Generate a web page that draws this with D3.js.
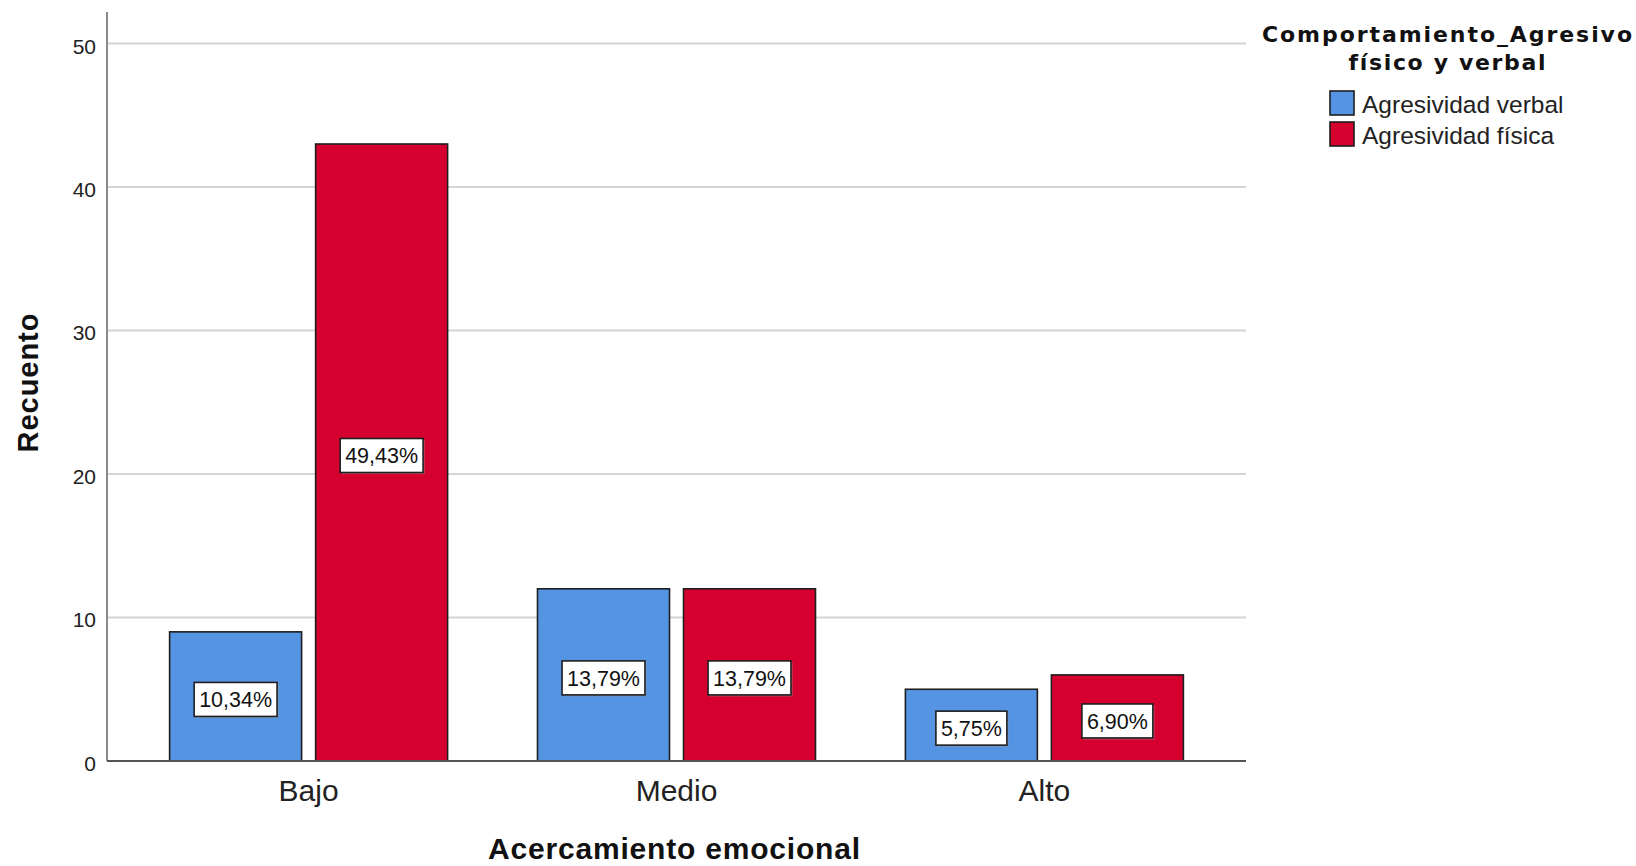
<!DOCTYPE html>
<html>
<head>
<meta charset="utf-8">
<script src="https://cdn.jsdelivr.net/npm/d3@7"></script>
<style>
  html, body { margin: 0; padding: 0; background: #fff; }
  svg { display: block; font-family: "Liberation Sans", Arial, sans-serif; }
</style>
</head>
<body>
<svg id="chart" width="1636" height="866"></svg>
<script>
const categories = ["Bajo", "Medio", "Alto"];
const seriesNames = ["Agresividad verbal", "Agresividad física"];
const verbalCounts = [9, 12, 5];
const fisicaCounts = [43, 12, 6];
const yTicks = [0, 10, 20, 30, 40, 50];
const colors = ["#5594E3", "#D5002F"];
const xTitle = "Acercamiento emocional";
const yTitle = "Recuento";
const legendTitle = ["Comportamiento_Agresivo", "físico y verbal"];

(function () {
const series = [verbalCounts, fisicaCounts];
const total = d3.sum(verbalCounts) + d3.sum(fisicaCounts);
const pct = v => (v / total * 100).toFixed(2).replace(".", ",") + "%";

const svg = d3.select("#chart");
const pLeft = 107, pRight = 1246, pTop = 12, pBottom = 761;

const x = d3.scaleBand().domain(categories).range([pLeft, pRight]).paddingInner(0).paddingOuter(0.048);
const xSub = d3.scaleBand().domain(seriesNames).range([-139, 139]).paddingInner(0.096);
const y = d3.scaleLinear().domain([0, 52.2]).range([pBottom, pTop]);

// gridlines
svg.append("g").selectAll("line").data(yTicks.filter(t => t > 0)).join("line")
  .attr("x1", pLeft).attr("x2", pRight)
  .attr("y1", d => y(d)).attr("y2", d => y(d))
  .attr("stroke", "#d4d4d4").attr("stroke-width", 2);

// y axis
const yAxis = svg.append("g").attr("transform", `translate(${pLeft},0)`)
  .call(d3.axisLeft(y).tickValues(yTicks).tickSize(0).tickPadding(11));
yAxis.select(".domain").attr("stroke", "#8a8a8a").attr("stroke-width", 2)
  .attr("d", `M0,${pTop}V${pBottom}`);
yAxis.selectAll("text").attr("font-size", 21).attr("fill", "#222")
  .attr("font-family", "Liberation Sans, Arial, sans-serif").attr("dy", "0.45em");

// bars
const rows = [];
categories.forEach((c, i) => {
  seriesNames.forEach((s, j) => {
    rows.push({cat: c, ser: s, val: series[j][i], color: colors[j]});
  });
});
const cx = c => x(c) + x.bandwidth() / 2;

svg.append("g").selectAll("rect").data(rows).join("rect")
  .attr("x", d => cx(d.cat) + xSub(d.ser))
  .attr("width", xSub.bandwidth())
  .attr("y", d => y(d.val))
  .attr("height", d => y(0) - y(d.val))
  .attr("fill", d => d.color)
  .attr("stroke", "#1e1e1e").attr("stroke-width", 1.6);

// x axis
const xAxis = svg.append("g").attr("transform", `translate(0,${pBottom})`)
  .call(d3.axisBottom(x).tickSize(0).tickPadding(19));
xAxis.select(".domain").attr("stroke", "#555").attr("stroke-width", 2)
  .attr("d", `M${pLeft},0H${pRight}`);
xAxis.selectAll("text").attr("font-size", 30).attr("fill", "#222")
  .attr("font-family", "Liberation Sans, Arial, sans-serif");

// value labels
const lab = svg.append("g").selectAll("g").data(rows).join("g")
  .attr("transform", d => `translate(${cx(d.cat) + xSub(d.ser) + xSub.bandwidth() / 2},${(y(0) + y(d.val)) / 2 + 3})`);
lab.each(function(d) {
  const g = d3.select(this);
  const t = g.append("text").text(pct(d.val))
    .attr("text-anchor", "middle").attr("dy", "0.36em")
    .attr("font-size", 21.5).attr("fill", "#111");
  const w = t.node().getComputedTextLength() + 10;
  g.insert("rect", "text").attr("x", -w / 2 + 1.5).attr("y", -17 + 1.5).attr("width", w).attr("height", 34)
    .attr("fill", "#9a9a9a").attr("opacity", 0.6);
  g.insert("rect", "text").attr("x", -w / 2).attr("y", -17).attr("width", w).attr("height", 34)
    .attr("fill", "#fff").attr("stroke", "#1e1e1e").attr("stroke-width", 1.6);
});

// axis titles
svg.append("text").text(xTitle)
  .attr("x", (488 + 860) / 2).attr("y", 859)
  .attr("text-anchor", "middle").attr("font-weight", "bold").attr("font-size", 30)
  .attr("textLength", 372).attr("lengthAdjust", "spacing").attr("fill", "#111");

svg.append("text").text(yTitle)
  .attr("transform", "translate(38,383) rotate(-90)")
  .attr("text-anchor", "middle").attr("font-weight", "bold").attr("font-size", 29)
  .attr("textLength", 139).attr("lengthAdjust", "spacing").attr("fill", "#111");

// legend
const legend = svg.append("g");
legend.append("text").text(legendTitle[0])
  .attr("x", 1447).attr("y", 42).attr("text-anchor", "middle")
  .attr("font-family", "DejaVu Sans, Verdana, sans-serif")
  .attr("font-weight", "bold").attr("font-size", 22)
  .attr("textLength", 370).attr("lengthAdjust", "spacing").attr("fill", "#111");
legend.append("text").text(legendTitle[1])
  .attr("x", 1447).attr("y", 70).attr("text-anchor", "middle")
  .attr("font-family", "DejaVu Sans, Verdana, sans-serif")
  .attr("font-weight", "bold").attr("font-size", 22)
  .attr("textLength", 197).attr("lengthAdjust", "spacing").attr("fill", "#111");

const items = legend.selectAll("g.item").data(seriesNames).join("g")
  .attr("class", "item")
  .attr("transform", (d, i) => `translate(1330,${91 + i * 31})`);
items.append("rect").attr("width", 24).attr("height", 24)
  .attr("fill", (d, i) => colors[i]).attr("stroke", "#1e1e1e").attr("stroke-width", 1.6);
items.append("text").text(d => d)
  .attr("x", 32).attr("y", 22).attr("font-size", 24.5).attr("fill", "#222");
})();
</script>
</body>
</html>
